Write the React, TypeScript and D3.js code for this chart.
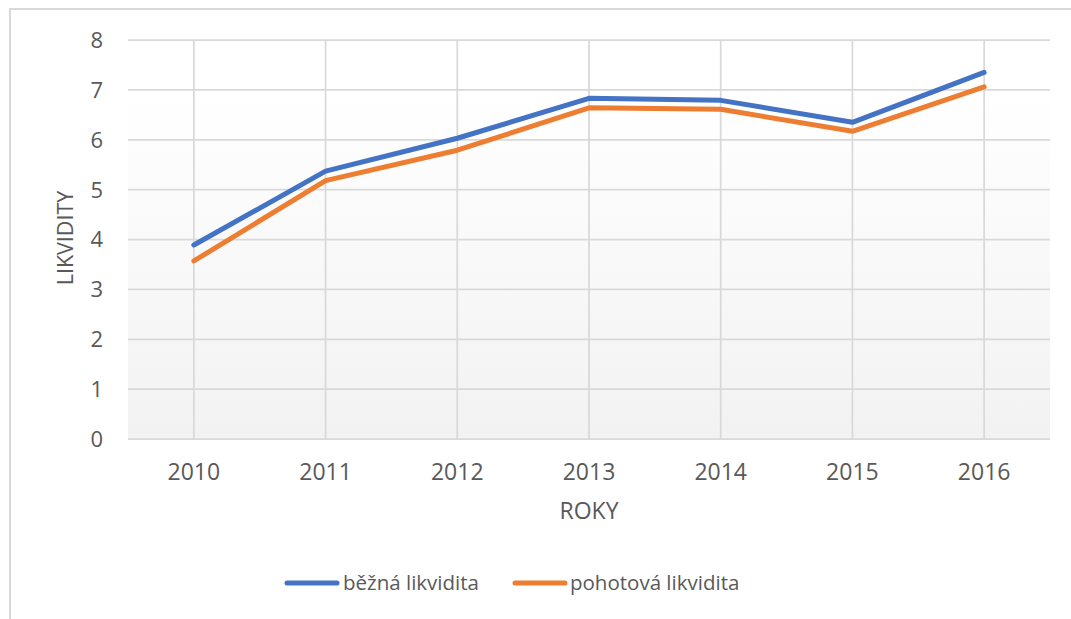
import React from "react";
import * as d3 from "d3";

const years = ["2010", "2011", "2012", "2013", "2014", "2015", "2016"];
const bezna = [3.89, 5.37, 6.03, 6.83, 6.79, 6.35, 7.35];
const pohotova = [3.57, 5.18, 5.79, 6.64, 6.61, 6.17, 7.06];
const yTicks = [0, 1, 2, 3, 4, 5, 6, 7, 8];
const seriesNames = ["běžná likvidita", "pohotová likvidita"];
const seriesColors = ["#4472C4", "#ED7D31"];

const W = 1071;
const H = 619;
const plot = { left: 128, right: 1050, top: 40, bottom: 439 };
const FONT = "'Open Sans', sans-serif";
const TXT = "#595959";

export default function App() {
  const x = d3.scaleBand().domain(years).range([plot.left, plot.right]);
  const y = d3.scaleLinear().domain([0, 8]).range([plot.bottom, plot.top]);
  const cx = (d: string) => (x(d) as number) + x.bandwidth() / 2;
  const line = d3
    .line<number>()
    .x((_, i) => cx(years[i]))
    .y((v) => y(v));
  const series = [bezna, pohotova];

  return (
    <svg
      width={W}
      height={H}
      style={{ position: "fixed", left: 0, top: 0, background: "#fff" }}
      fontFamily={FONT}
    >
      <defs>
        <linearGradient id="bg" x1="0" y1="0" x2="0" y2="1">
          <stop offset="0" stopColor="#ffffff" />
          <stop offset="0.125" stopColor="#ffffff" />
          <stop offset="1" stopColor="#f2f2f2" />
        </linearGradient>
      </defs>
      <rect x={10} y={9} width={W + 20} height={H + 20} fill="#fff" stroke="#d9d9d9" strokeWidth={2} />
      <rect
        x={plot.left}
        y={plot.top}
        width={plot.right - plot.left}
        height={plot.bottom - plot.top}
        fill="url(#bg)"
      />
      {yTicks.map((t) => (
        <line
          key={"h" + t}
          x1={plot.left}
          x2={plot.right}
          y1={y(t)}
          y2={y(t)}
          stroke="#d9d9d9"
          strokeWidth={1.75}
        />
      ))}
      {years.map((yr) => (
        <line
          key={"v" + yr}
          x1={cx(yr)}
          x2={cx(yr)}
          y1={plot.top}
          y2={plot.bottom}
          stroke="#d9d9d9"
          strokeWidth={1.75}
        />
      ))}
      {yTicks.map((t) => (
        <text
          key={"yl" + t}
          x={103}
          y={y(t)}
          dy="0.36em"
          textAnchor="end"
          fontSize={22}
          fill={TXT}
        >
          {t}
        </text>
      ))}
      {years.map((yr) => (
        <text key={"xl" + yr} x={cx(yr)} y={480} textAnchor="middle" fontSize={23} fill={TXT}>
          {yr}
        </text>
      ))}
      <text x={589} y={519} textAnchor="middle" fontSize={23} fill={TXT}>
        ROKY
      </text>
      <text
        transform={`translate(73, 238) rotate(-90)`}
        textAnchor="middle"
        fontSize={21.5}
        fill={TXT}
      >
        LIKVIDITY
      </text>
      {series.map((s, i) => (
        <path
          key={"s" + i}
          d={line(s) as string}
          fill="none"
          stroke={seriesColors[i]}
          strokeWidth={5}
          strokeLinecap="round"
          strokeLinejoin="round"
        />
      ))}
      {[
        { lx: 287, tx: 343 },
        { lx: 515, tx: 570 },
      ].map((p, i) => (
        <g key={"lg" + i}>
          <line
            x1={p.lx}
            x2={p.lx + 50}
            y1={583}
            y2={583}
            stroke={seriesColors[i]}
            strokeWidth={5}
            strokeLinecap="round"
          />
          <text x={p.tx} y={590} fontSize={20.5} fill={TXT}>
            {seriesNames[i]}
          </text>
        </g>
      ))}
    </svg>
  );
}
